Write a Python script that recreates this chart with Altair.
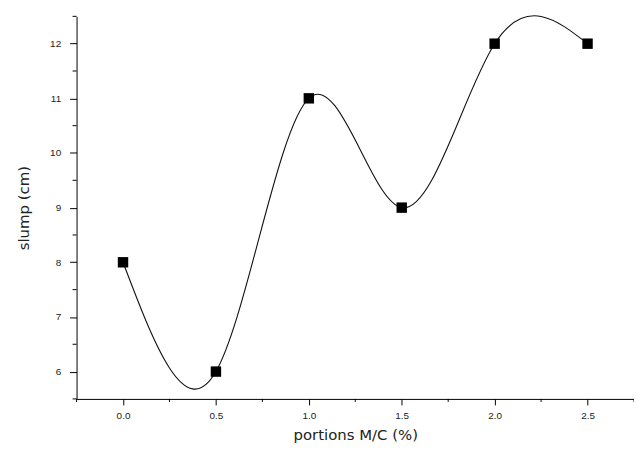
import altair as alt
import pandas as pd

portions = [0.0, 0.5, 1.0, 1.5, 2.0, 2.5]
slump = [8, 6, 11, 9, 12, 12]

x_major = [0.0, 0.5, 1.0, 1.5, 2.0, 2.5]
x_minor = [-0.25, 0.25, 0.75, 1.25, 1.75, 2.25, 2.75]
y_major = [6, 7, 8, 9, 10, 11, 12]
y_minor = [5.5, 6.5, 7.5, 8.5, 9.5, 10.5, 11.5, 12.5]

df = pd.DataFrame({"x": portions, "y": slump})
dfx = pd.DataFrame({"x": x_minor})
dfy = pd.DataFrame({"y": y_minor})

label_font = "Liberation Sans"
title_font = "DejaVu Sans"
PLOT_H = 385

x_scale = alt.Scale(domain=[-0.25, 2.75], nice=False, zero=False)
y_scale = alt.Scale(domain=[5.5, 12.5], nice=False, zero=False)

x_enc = alt.X(
    "x:Q",
    scale=x_scale,
    axis=alt.Axis(
        title="portions M/C (%)",
        values=x_major,
        format=".1f",
        tickSize=6,
        grid=False,
        domainColor="black",
        tickColor="black",
        labelColor="#222222",
        titleColor="#222222",
        labelFont=label_font,
        titleFont=title_font,
        labelFontSize=10,
        titleFontSize=15,
        titleFontWeight="normal",
        labelPadding=6,
        titlePadding=7,
        labelFlush=False,
    ),
)

y_enc = alt.Y(
    "y:Q",
    scale=y_scale,
    axis=alt.Axis(
        title="slump (cm)",
        values=y_major,
        format="d",
        tickSize=7,
        grid=False,
        domainColor="black",
        tickColor="black",
        labelColor="#222222",
        titleColor="#222222",
        labelFont=label_font,
        titleFont=title_font,
        labelFontSize=10,
        titleFontSize=15,
        titleFontWeight="normal",
        labelPadding=9,
        titlePadding=18,
        labelFlush=False,
    ),
)

line = alt.Chart(df).mark_line(interpolate="natural", color="#111111", strokeWidth=1.1).encode(x=x_enc, y=y_enc)
pts = alt.Chart(df).mark_square(size=110, color="black", opacity=1, filled=True).encode(x=x_enc, y=y_enc)

x_minor_ticks = alt.Chart(dfx).mark_rule(color="black", strokeWidth=1).encode(
    x=alt.X("x:Q", scale=x_scale),
    y=alt.value(PLOT_H),
    y2=alt.value(PLOT_H + 3),
)
y_minor_ticks = alt.Chart(dfy).mark_rule(color="black", strokeWidth=1).encode(
    y=alt.Y("y:Q", scale=y_scale),
    x=alt.value(0),
    x2=alt.value(-4),
)

chart = (
    alt.layer(line, pts, x_minor_ticks, y_minor_ticks)
    .properties(
        width=561,
        height=PLOT_H,
        autosize=alt.AutoSizeParams(type="none"),
        padding={"left": 69, "top": 7, "right": 0, "bottom": 50},
        background="white",
    )
    .configure_view(stroke=None)
)

chart.save("out.html", embed_options={"renderer": "svg", "actions": False})
